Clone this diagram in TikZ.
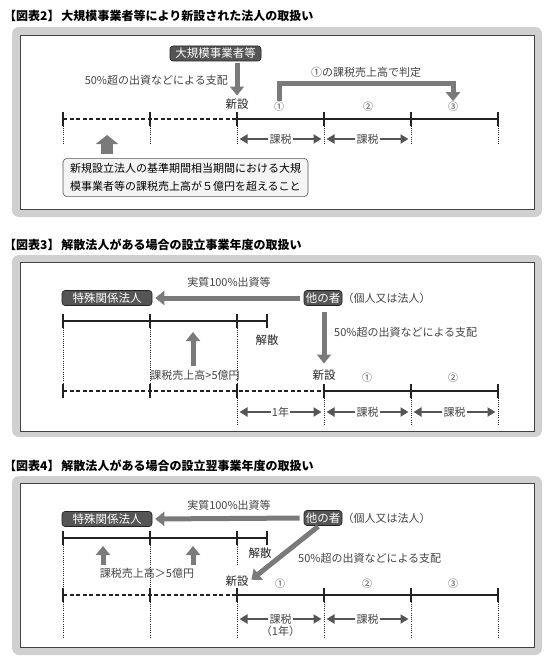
\documentclass[tikz,border=0pt]{standalone}
\usepackage{fontspec}
\setmainfont{Noto Sans CJK JP}
\usetikzlibrary{arrows.meta,positioning,calc}
\definecolor{Ink}{HTML}{222222}
\definecolor{Txt}{HTML}{444444}
\definecolor{Dark}{HTML}{555555}
\definecolor{Shade}{HTML}{7A7A7A}
\definecolor{Frame}{HTML}{D0D0D0}

\tikzset{
  panelbg/.style={fill=Frame, rounded corners=7pt},
  panelbox/.style={draw=Ink!85, fill=white, line width=0.9pt},
  figtitle/.style={anchor=west, inner sep=0pt, font=\fontsize{12}{13}\selectfont\bfseries},
  darkbox/.style={rounded corners=3pt, fill=Dark, draw=Ink, line width=0.6pt, text=white,
    minimum height=15pt, inner sep=1.5pt, font=\fontsize{11.5}{12}\selectfont},
  lbl/.style={text=Txt, inner sep=1pt, font=\fontsize{11}{12}\selectfont},
  eventlbl/.style={text=Ink, inner sep=1pt, font=\fontsize{11.5}{12}\selectfont},
  numlbl/.style={text=Txt, inner sep=1pt, font=\fontsize{10}{11}\selectfont},
  notebox/.style={rounded corners=4pt, draw=Dark, fill=gray!9, line width=0.6pt, align=left,
    inner xsep=7pt, inner ysep=5pt, font=\fontsize{11}{18}\selectfont},
  tickbar/.style={draw=Ink, line width=2.8pt},
  solidline/.style={draw=Ink, line width=1.6pt},
  dashline/.style={draw=Ink, line width=1.6pt, dash pattern=on 4pt off 2.5pt},
  guideline/.style={draw=Ink, line width=0.7pt, dash pattern=on 0.9pt off 1.3pt},
  fatarrow/.style={draw=Shade, line width=5pt, -{Triangle[width=14pt,length=9pt]}},
  blockarrow/.style={draw=Shade, line width=12pt, -{Triangle[width=22pt,length=9pt]}},
  spanarrow/.style={draw=Dark, line width=2.6pt, -{Triangle[width=9pt,length=8pt]}, shorten >=2.5pt},
}

\begin{document}
\begin{tikzpicture}[x=1pt,y=-1pt]
  \useasboundingbox (0,0) rectangle (550,669);

  % ---------- 図表2 ----------
  \node[figtitle] (f2title) at (4,16) {【図表2】\hspace{2pt}大規模事業者等により新設された法人の取扱い};
  \fill[panelbg] (12,27) rectangle (542,217);
  \draw[panelbox] (20,35) rectangle (534,209);

  \foreach \i/\x in {0/63,1/150,2/237,3/324,4/411,5/498}
    \coordinate (f2t\i) at (\x,119);
  \draw[dashline] (f2t0) -- (f2t2);
  \draw[solidline] (f2t2) -- (f2t5);
  \foreach \i in {0,...,5} {
    \draw[guideline] (f2t\i) -- ++(0,26);
    \draw[tickbar] ([yshift=7pt]f2t\i) -- ([yshift=-7pt]f2t\i);
  }

  \node[darkbox, minimum width=91pt] (f2big) at (215.5,53.5) {大規模事業者等};
  \node[lbl, anchor=east] (f2ctrl) at (229,80) {50\%超の出資などによる支配};
  \node[eventlbl] (f2new) at (237,104) {新設};
  \draw[fatarrow, shorten <=2pt, shorten >=2pt] (f2big.south -| f2new) -- (f2new.north);

  \node[numlbl] (f2n1) at (279,107) {①};
  \node[numlbl] (f2n2) at (368,107) {②};
  \node[numlbl] (f2n3) at (453,107) {③};
  \coordinate (f2judge) at (366,83);
  \node[lbl] (f2judgetext) at (366,72) {①の課税売上高で判定};
  \draw[fatarrow, line join=miter] (f2n1) |- (f2judge) -| (f2n3);

  \foreach \a/\b in {2/3,3/4} {
    \node[lbl, fill=white] (f2tax\a) at ($(f2t\a)!0.5!(f2t\b)+(0,20)$) {課税};
    \draw[spanarrow] (f2tax\a.west) -- (f2tax\a.west -| f2t\a);
    \draw[spanarrow] (f2tax\a.east) -- (f2tax\a.east -| f2t\b);
  }

  \node[notebox] (f2note) at (185.5,177.5) {新規設立法人の基準期間相当期間における大規\\模事業者等の課税売上高が５億円を超えること};
  \coordinate (f2up) at (107,135);
  \draw[blockarrow, shorten <=4pt] (f2note.north -| f2up) -- (f2up);

  % ---------- 図表3 ----------
  \node[figtitle] (f3title) at (4,245) {【図表3】\hspace{2pt}解散法人がある場合の設立事業年度の取扱い};
  \fill[panelbg] (12,255) rectangle (542,437);
  \draw[panelbox] (20,262) rectangle (534,431);

  \node[darkbox, minimum width=90pt] (f3rel) at (107,298) {特殊関係法人};
  \node[darkbox, minimum width=38pt] (f3other) at (323,298) {他の者};
  \node[lbl, anchor=west, inner sep=0pt] (f3kind) at (f3other.east) {（個人又は法人）};
  \node[lbl] (f3full) at (229,282) {実質100\%出資等};
  \draw[fatarrow, shorten <=4pt, shorten >=3pt] (f3other.west) -- (f3rel.east);

  \foreach \i/\x in {0/63,1/150,2/237,3/267}
    \coordinate (f3u\i) at (\x,321);
  \foreach \i/\x in {0/63,1/150,2/237,3/324,4/411,5/498}
    \coordinate (f3t\i) at (\x,391);
  \foreach \i in {0,1,2}
    \draw[guideline] (f3u\i) -- (f3t\i);
  \foreach \i in {2,...,5}
    \draw[guideline] (f3t\i) -- ++(0,34);
  \draw[solidline] (f3u0) -- (f3u3);
  \draw[dashline] (f3t0) -- (f3t3);
  \draw[solidline] (f3t3) -- (f3t5);
  \foreach \i in {0,...,3}
    \draw[tickbar] ([yshift=7pt]f3u\i) -- ([yshift=-7pt]f3u\i);
  \foreach \i in {0,...,5}
    \draw[tickbar] ([yshift=7pt]f3t\i) -- ([yshift=-7pt]f3t\i);

  \node[eventlbl] (f3end) at (267,340) {解散};
  \node[eventlbl] (f3new) at (324,375) {新設};
  \draw[fatarrow, shorten <=6pt, shorten >=5pt] (f3other.south -| f3new) -- (f3new.north);
  \node[lbl, anchor=west] (f3ctrl) at (333,332) {50\%超の出資などによる支配};

  \node[lbl] (f3sales) at (195,375) {課税売上高>5億円};
  \coordinate (f3up) at (193,332);
  \draw[fatarrow, shorten <=3pt] (f3sales.north -| f3up) -- (f3up);

  \node[numlbl] (f3n1) at (367,378) {①};
  \node[numlbl] (f3n2) at (453,378) {②};

  \foreach \a/\b/\txt in {2/3/1年,3/4/課税,4/5/課税} {
    \node[lbl, fill=white] (f3tax\a) at ($(f3t\a)!0.5!(f3t\b)+(0,21)$) {\txt};
    \draw[spanarrow] (f3tax\a.west) -- (f3tax\a.west -| f3t\a);
    \draw[spanarrow] (f3tax\a.east) -- (f3tax\a.east -| f3t\b);
  }

  % ---------- 図表4 ----------
  \node[figtitle] (f4title) at (4,466) {【図表4】\hspace{2pt}解散法人がある場合の設立翌事業年度の取扱い};
  \fill[panelbg] (12,476) rectangle (542,655);
  \draw[panelbox] (20,483) rectangle (534,647);

  \node[darkbox, minimum width=90pt] (f4rel) at (107,519) {特殊関係法人};
  \node[darkbox, minimum width=38pt] (f4other) at (323,518) {他の者};
  \node[lbl, anchor=west, inner sep=0pt] (f4kind) at (f4other.east) {（個人又は法人）};
  \node[lbl] (f4full) at (229,505) {実質100\%出資等};
  \draw[fatarrow, shorten <=4pt, shorten >=3pt] (f4other.west) -- (f4rel.east);

  \foreach \i/\x in {0/63,1/150,2/237,3/267}
    \coordinate (f4u\i) at (\x,538);
  \foreach \i/\x in {0/63,1/150,2/237,3/324,4/411,5/498}
    \coordinate (f4t\i) at (\x,595);
  \foreach \i in {0,1}
    \draw[guideline] (f4u\i) -- (f4t\i);
  \draw[guideline] (f4u2) -- ++(0,28);
  \foreach \i in {0,...,5}
    \draw[guideline] (f4t\i) -- ++(0,42);
  \draw[solidline] (f4u0) -- (f4u3);
  \draw[dashline] (f4t0) -- (f4t2);
  \draw[solidline] (f4t2) -- (f4t5);
  \foreach \i in {0,...,3}
    \draw[tickbar] ([yshift=7pt]f4u\i) -- ([yshift=-7pt]f4u\i);
  \foreach \i in {0,...,5}
    \draw[tickbar] ([yshift=7pt]f4t\i) -- ([yshift=-7pt]f4t\i);

  \node[eventlbl] (f4end) at (260,553) {解散};
  \node[eventlbl] (f4new) at (237,581) {新設};
  \draw[fatarrow, shorten <=1pt, shorten >=2pt] ([xshift=-4pt]f4other.south) -- (f4new.east);
  \node[lbl, anchor=west] (f4ctrl) at (297,558) {50\%超の出資などによる支配};

  \node[lbl] (f4sales) at (147,573) {課税売上高＞5億円};
  \coordinate (f4up1) at (103,546);
  \coordinate (f4up2) at (193,546);
  \draw[fatarrow, shorten <=2pt] (f4sales.north -| f4up1) -- (f4up1);
  \draw[fatarrow, shorten <=2pt] (f4sales.north -| f4up2) -- (f4up2);

  \node[numlbl] (f4n1) at (280,584) {①};
  \node[numlbl] (f4n2) at (367,584) {②};
  \node[numlbl] (f4n3) at (453,584) {③};

  \foreach \a/\b in {2/3,3/4} {
    \node[lbl, fill=white] (f4tax\a) at ($(f4t\a)!0.5!(f4t\b)+(0,24)$) {課税};
    \draw[spanarrow] (f4tax\a.west) -- (f4tax\a.west -| f4t\a);
    \draw[spanarrow] (f4tax\a.east) -- (f4tax\a.east -| f4t\b);
  }
  \node[lbl, below=0pt of f4tax2] (f4year) {（1年）};
\end{tikzpicture}
\end{document}
